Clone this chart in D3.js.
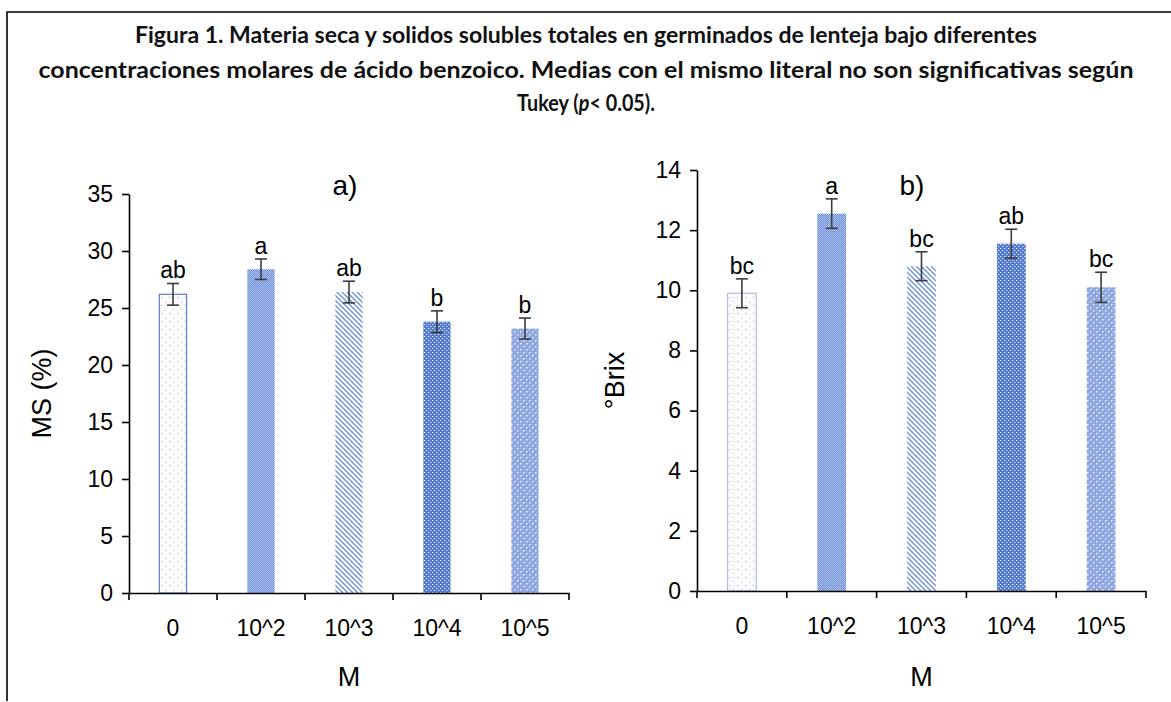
<!DOCTYPE html>
<html><head><meta charset="utf-8">
<script src="https://cdn.jsdelivr.net/npm/d3@7/dist/d3.min.js"></script>
<style>body{margin:0;background:#fff}svg{display:block}</style>
</head><body>
<svg id="c" width="1171" height="702"></svg>
<script>
const categories = ["0","10^2","10^3","10^4","10^5"];
const msValues = [26.2, 28.4, 26.4, 23.8, 23.2];
const msErrors = [0.95, 0.9, 0.95, 0.95, 0.92];
const msLetters = ["ab","a","ab","b","b"];
const msTicks = [0,5,10,15,20,25,30,35];
const brixValues = [9.9, 12.55, 10.8, 11.55, 10.1];
const brixErrors = [0.48, 0.49, 0.48, 0.48, 0.5];
const brixLetters = ["bc","a","bc","ab","bc"];
const brixTicks = [0,2,4,6,8,10,12,14];
const titleLines = ["Figura 1. Materia seca y solidos solubles totales en germinados de lenteja bajo diferentes",
  "concentraciones molares de ácido benzoico. Medias con el mismo literal no son significativas según"];

const svg = d3.select("#c");
const defs = svg.append("defs");
const font = "Liberation Sans, Arial, sans-serif";

function pat(id, w, h, bg, draw){
  const p = defs.append("pattern").attr("id", id).attr("patternUnits","userSpaceOnUse").attr("width", w).attr("height", h);
  p.append("rect").attr("width", w).attr("height", h).attr("fill", bg);
  draw(p);
}
function px(p, x, y, c, s){ p.append("rect").attr("x",x).attr("y",y).attr("width",s||1).attr("height",s||1).attr("fill",c); }
pat("p0", 8, 8, "#fdfdfe", p => { px(p,1,1,"#9aa1bb"); px(p,5,5,"#b0b6cc"); });
pat("p1", 2, 2, "#6d8fdc", p => { px(p,0,0,"#b9c8ee"); px(p,1,1,"#a4b8ea"); });
pat("p2", 5, 5, "#ffffff", p => {
  p.append("path").attr("d","M-1,-1L6,6M-1,4L1,6M4,-1L6,1").attr("stroke","#6a8dd8").attr("stroke-width",1.3);
});
pat("p3", 4, 4, "#527ad0", p => { px(p,0,0,"#e6ecfa"); px(p,2,2,"#e6ecfa"); px(p,1,0,"#8aa3e0"); px(p,3,2,"#8aa3e0"); });
pat("p4", 6, 6, "#8aa4e0", p => {
  px(p,0,0,"#b3c3ec"); px(p,2,2,"#b3c3ec"); px(p,4,4,"#b3c3ec");
  px(p,1,4,"#f4f7fd",1.5); px(p,4,1,"#f4f7fd",1.5);
});
const fills = ["url(#p0)","url(#p1)","url(#p2)","url(#p3)","url(#p4)"];

svg.append("path").attr("d","M7,701V12H1171").attr("fill","none").attr("stroke","#000").attr("stroke-width",1.6);

const tg = svg.append("g").attr("font-family","Lato, 'Open Sans', sans-serif").attr("font-weight","bold").attr("font-size",22.5).attr("fill","#111").attr("text-anchor","middle");
tg.append("text").attr("x",586).attr("y",43).attr("textLength",902).attr("lengthAdjust","spacingAndGlyphs").text(titleLines[0]);
tg.append("text").attr("x",586).attr("y",78).attr("textLength",1095).attr("lengthAdjust","spacingAndGlyphs").text(titleLines[1]);
const t3 = tg.append("text").attr("transform","translate(586,111) scale(0.88,1)");
t3.append("tspan").text("Tukey (");
t3.append("tspan").attr("font-style","italic").text("p");
t3.append("tspan").text("< 0.05).");

function chart(cfg){
  const g = svg.append("g");
  const x = d3.scaleBand().domain(categories).range([cfg.x0, cfg.x1]).paddingInner(cfg.pad).paddingOuter(cfg.pad/2);
  const y = d3.scaleLinear().domain([0, cfg.max]).range([cfg.y0, cfg.y1]);
  g.selectAll("rect.bar").data(cfg.values).join("rect").attr("class","bar")
    .attr("x",(d,i)=>x(categories[i])).attr("width",x.bandwidth())
    .attr("y",d=>y(d)).attr("height",d=>y(0)-y(d))
    .attr("fill",(d,i)=>fills[i])
    .attr("stroke",(d,i)=>i===0?cfg.stroke0:"none").attr("stroke-width",1.2);
  const eg = g.append("g").attr("stroke","#3c3c3c").attr("stroke-width",1.6);
  cfg.values.forEach((v,i)=>{
    const cx = x(categories[i]) + x.bandwidth()/2;
    const e = cfg.errors[i];
    eg.append("line").attr("x1",cx).attr("x2",cx).attr("y1",y(v+e)).attr("y2",y(v-e));
    eg.append("line").attr("x1",cx-6).attr("x2",cx+6).attr("y1",y(v+e)).attr("y2",y(v+e));
    eg.append("line").attr("x1",cx-6).attr("x2",cx+6).attr("y1",y(v-e)).attr("y2",y(v-e));
    g.append("text").attr("x",cx).attr("y",y(v+e)-5).attr("text-anchor","middle")
      .attr("font-family",font).attr("font-size",23).attr("fill","#000").text(cfg.letters[i]);
  });
  const ya = g.append("g").attr("transform",`translate(${cfg.x0},0)`)
    .call(d3.axisLeft(y).tickValues(cfg.ticks).tickSize(7).tickPadding(9).tickSizeOuter(0));
  ya.select(".domain").attr("stroke","#000").attr("stroke-width",1.6);
  ya.selectAll(".tick line").attr("stroke","#000").attr("stroke-width",1.6);
  ya.selectAll(".tick text").attr("font-family",font).attr("font-size",23).attr("fill","#000");
  const xa = g.append("g").attr("transform",`translate(0,${cfg.y0})`)
    .call(d3.axisBottom(x).tickSize(0).tickPadding(27));
  xa.select(".domain").attr("stroke","#000").attr("stroke-width",1.6);
  xa.selectAll(".tick text").attr("font-family",font).attr("font-size",23).attr("fill","#000");
  const bounds = categories.map(c=>x(c)-x.step()*x.paddingInner()/2).concat([cfg.x1]);
  xa.selectAll("line.bt").data(bounds).join("line").attr("class","bt")
    .attr("x1",d=>d).attr("x2",d=>d).attr("y1",0).attr("y2",7).attr("stroke","#000").attr("stroke-width",1.6);
  g.append("text").attr("x",cfg.tx).attr("y",cfg.ty).attr("text-anchor","middle")
    .attr("font-family",font).attr("font-size",28).text(cfg.title);
  g.append("text").attr("x",(cfg.x0+cfg.x1)/2).attr("y",686).attr("text-anchor","middle")
    .attr("font-family",font).attr("font-size",27).text("M");
  g.append("text").attr("transform",`translate(${cfg.ylx},${(cfg.y0+cfg.y1)/2}) rotate(-90)`).attr("text-anchor","middle")
    .attr("font-family",font).attr("font-size",27).text(cfg.ylabel);
}

chart({x0:129, x1:569, y0:593, y1:194, max:35, pad:0.69, values:msValues, errors:msErrors, letters:msLetters,
  ticks:msTicks, title:"a)", tx:345, ty:195, ylabel:"MS (%)", ylx:51, stroke0:"#5b7fd0"});
chart({x0:697, x1:1146, y0:591, y1:170, max:14, pad:0.68, values:brixValues, errors:brixErrors, letters:brixLetters,
  ticks:brixTicks, title:"b)", tx:912, ty:195, ylabel:"°Brix", ylx:624, stroke0:"#b3bce2"});
</script>
</body></html>
